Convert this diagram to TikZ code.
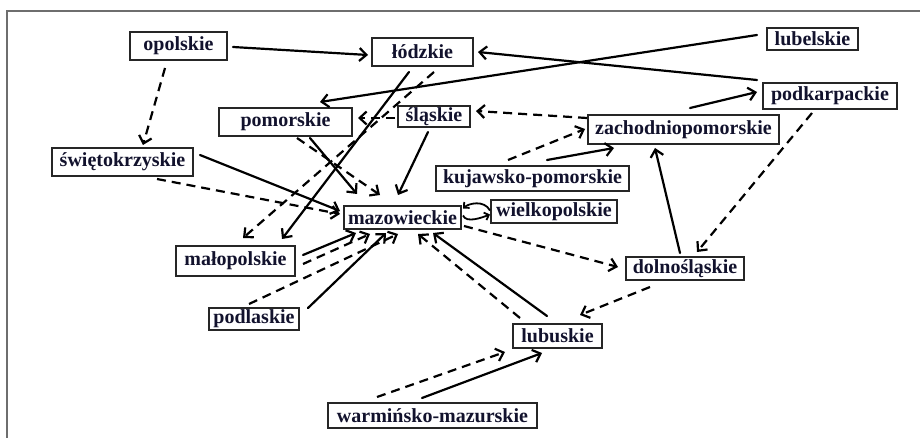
\documentclass[tikz,border=0pt]{standalone}
\usepackage{fontspec}
\setmainfont{Liberation Serif}
\usetikzlibrary{arrows.meta,calc}
\definecolor{txt}{RGB}{18,18,45}
\definecolor{frame}{RGB}{110,110,110}
\begin{document}
\begin{tikzpicture}[x=1pt,y=-1pt,
  box/.style={draw=black!85,line width=1.5pt,inner sep=0pt,text=txt,font=\fontsize{20}{22}\selectfont\bfseries},
  arr/.style={line width=2.2pt,line cap=round,-{Straight Barb[length=7pt,width=13pt,line width=2.2pt]}},
  dsh/.style={arr,line cap=butt,dash pattern=on 9pt off 6pt}]
\useasboundingbox (0,0) rectangle (920,438);
\fill[white] (0,0) rectangle (920,438);
\draw[frame,line width=1.3pt] (7,438) -- (7,11) -- (920,11);

\node[box,minimum width=97pt,minimum height=28pt] (opolskie) at (178.5,46) {opolskie};
\node[box,minimum width=101pt,minimum height=28pt] (lodzkie) at (422.5,52) {łódzkie};
\node[box,minimum width=91pt,minimum height=22pt] (lubelskie) at (812.5,39) {lubelskie};
\node[box,minimum width=134pt,minimum height=26pt] (podkarpackie) at (830,96) {podkarpackie};
\node[box,minimum width=133pt,minimum height=28pt] (pomorskie) at (285.5,122) {pomorskie};
\node[box,minimum width=72pt,minimum height=21pt] (slaskie) at (434,116.5) {śląskie};
\node[box,minimum width=191pt,minimum height=29pt] (zachodnio) at (683.5,129.5) {zachodniopomorskie};
\node[box,minimum width=141pt,minimum height=28pt] (swieto) at (122.5,162) {świętokrzyskie};
\node[box,minimum width=193pt,minimum height=25pt] (kujawsko) at (532.5,178.5) {kujawsko-pomorskie};
\node[box,minimum width=117pt,minimum height=23pt] (mazow) at (402.5,217.5) {mazowieckie};
\node[box,minimum width=126pt,minimum height=23pt] (wielko) at (554,211.5) {wielkopolskie};
\node[box,minimum width=119pt,minimum height=30pt] (malopol) at (235.5,261) {małopolskie};
\node[box,minimum width=118pt,minimum height=23pt] (dolno) at (685,268.5) {dolnośląskie};
\node[box,minimum width=90pt,minimum height=22pt] (podlaskie) at (254,319) {podlaskie};
\node[box,minimum width=89pt,minimum height=24pt] (lubuskie) at (557.5,336) {lubuskie};
\node[box,minimum width=209pt,minimum height=25pt] (warminsko) at (432.5,415.5) {warmińsko-mazurskie};

% top part
\draw[arr] ($(opolskie)+(54.5,1)$) -- ($(lodzkie)+(-54.5,3)$);
\draw[dsh] ($(opolskie)+(-13.5,22)$) -- ($(swieto)+(20.5,-17)$);
\draw[arr] ($(podkarpackie)+(-73,-16)$) -- ($(lodzkie)+(55.5,0)$);
\draw[arr] ($(lubelskie)+(-55.5,-4)$) -- ($(pomorskie)+(34.5,-20)$);
\draw[arr] ($(zachodnio)+(6.5,-21.5)$) -- ($(podkarpackie)+(-73,-4)$);
\draw[dsh] ($(zachodnio)+(-96.5,-11.5)$) -- ($(slaskie)+(42,-5.5)$);
\draw[dsh] ($(podkarpackie)+(-18,17)$) -- ($(dolno)+(12,-16.5)$);
\draw[arr] ($(dolno)+(-5,-15.5)$) -- ($(zachodnio)+(-28.5,18.5)$);
\draw[dsh] ($(kujawsko)+(-24.5,-18.5)$) -- ($(zachodnio)+(-98.5,-0.5)$);
\draw[arr] ($(kujawsko)+(14.5,-18.5)$) -- ($(zachodnio)+(-69.5,18.5)$);
\draw[arr] ($(lodzkie)+(-13.5,20)$) -- ($(malopol)+(46.5,-22)$);
\draw[dsh] ($(lodzkie)+(11.5,20)$) -- ($(malopol)+(7.5,-23)$);
\draw[dsh] ($(slaskie)+(-39,1.5)$) -- ($(pomorskie)+(72.5,-4)$);

% into mazowieckie
\draw[arr] ($(pomorskie)+(24.5,16)$) -- ($(mazow)+(-45.5,-23.5)$);
\draw[dsh] ($(pomorskie)+(11.5,16)$) -- ($(mazow)+(-22.5,-22.5)$);
\draw[arr] ($(slaskie)+(-6,15.5)$) -- ($(mazow)+(-4.5,-22.5)$);
\draw[arr] ($(swieto)+(77.5,-7)$) -- ($(mazow)+(-62.5,-6.5)$);
\draw[dsh] ($(swieto)+(34.5,17)$) -- ($(mazow)+(-62.5,-3.5)$);
\draw[arr] ($(malopol)+(67.5,-6)$) -- ($(mazow)+(-46.5,15.5)$);
\draw[dsh] ($(malopol)+(67.5,3)$) -- ($(mazow)+(-32.5,16.5)$);
\draw[dsh] ($(podlaskie)+(-5,-15)$) -- ($(mazow)+(-4.5,16.5)$);
\draw[arr] ($(podlaskie)+(54,-11)$) -- ($(mazow)+(-16.5,15.5)$);
\draw[arr] ($(lubuskie)+(-10.5,-20)$) -- ($(mazow)+(30.5,15.5)$);
\draw[dsh] ($(lubuskie)+(-37.5,-18)$) -- ($(mazow)+(15.5,16.5)$);

% mazowieckie <-> wielkopolskie
\draw[line width=1.8pt,-{Straight Barb[length=4pt,width=8pt,line width=1.8pt]}] ($(wielko)+(-64,-1)$) .. controls ($(wielko)+(-70,-12)$) and ($(mazow)+(66,-14)$) .. ($(mazow)+(60.5,-9)$);
\draw[line width=1.8pt,-{Straight Barb[length=4pt,width=8pt,line width=1.8pt]}] ($(mazow)+(60.5,-2)$) .. controls ($(mazow)+(64,6)$) and ($(wielko)+(-72,6)$) .. ($(wielko)+(-64,3)$);

% lower part
\draw[dsh] ($(mazow)+(61.5,8.5)$) -- ($(dolno)+(-67,-1.5)$);
\draw[dsh] ($(dolno)+(-35,18.5)$) -- ($(lubuskie)+(22.5,-21)$);
\draw[dsh] ($(warminsko)+(-55.5,-18.5)$) -- ($(lubuskie)+(-52.5,16)$);
\draw[arr] ($(warminsko)+(-10.5,-17.5)$) -- ($(lubuskie)+(-15.5,17)$);
\end{tikzpicture}
\end{document}
